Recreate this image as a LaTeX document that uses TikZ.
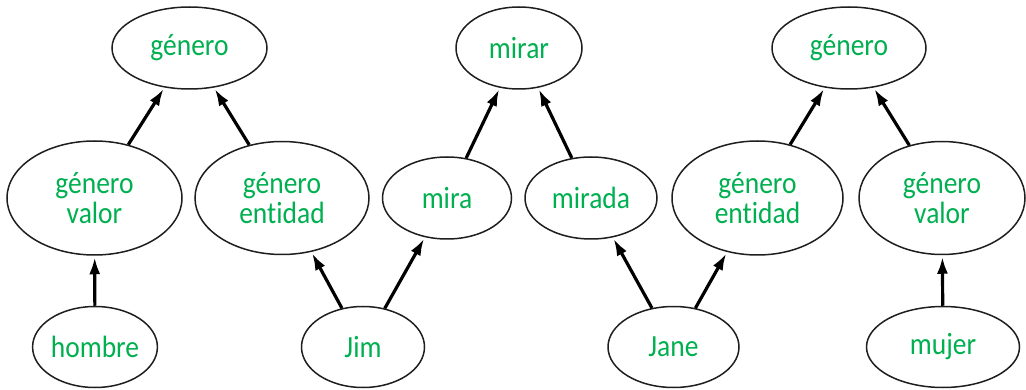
\documentclass[tikz,border=0pt]{standalone}
\usepackage{fontspec}
\setmainfont{Carlito}[Ligatures={NoCommon}]
\usetikzlibrary{shapes.geometric,arrows.meta}
\definecolor{txtgreen}{RGB}{0,176,80}
\definecolor{edgegray}{RGB}{30,30,30}
\newcommand{\tl}[1]{\scalebox{1}[1.12]{#1}}
\tikzset{
  el/.style={ellipse, draw=edgegray, line width=1.5pt, inner sep=0pt, align=center,
    text=txtgreen, font=\fontsize{27.5}{30}\selectfont},
  arr/.style={-{Latex[length=17pt,width=11pt]}, line width=3.2pt, shorten >=1.5pt, shorten <=0pt}
}
\begin{document}
\begin{tikzpicture}[x=1pt,y=-1pt]
\useasboundingbox (0,0) rectangle (1026,390);
% top row
\node[el, minimum width=155pt, minimum height=82pt] (g1) at (189.5,48) {\tl{género}};
\node[el, minimum width=126pt, minimum height=82pt] (mirar) at (519,48) {\tl{mirar}};
\node[el, minimum width=154pt, minimum height=82pt] (g3) at (849,48) {\tl{género}};
% middle row
\node[el, minimum width=175pt, minimum height=114pt] (gvL) at (94.5,198) {\tl{género}\\\tl{valor}};
\node[el, minimum width=174pt, minimum height=113pt] (geL) at (282,198) {\tl{género}\\\tl{entidad}};
\node[el, minimum width=129pt, minimum height=82pt] (mira) at (447,198) {\tl{mira}};
\node[el, minimum width=132pt, minimum height=82pt] (mirada) at (591,198) {\tl{mirada}};
\node[el, minimum width=171pt, minimum height=114pt] (geR) at (757.5,198) {\tl{género}\\\tl{entidad}};
\node[el, minimum width=166pt, minimum height=113pt] (gvR) at (942,198) {\tl{género}\\\tl{valor}};
% bottom row
\node[el, minimum width=124pt, minimum height=81pt] (hombre) at (95,347) {\tl{hombre}};
\node[el, minimum width=123pt, minimum height=81pt] (jim) at (363,347) {\tl{Jim}};
\node[el, minimum width=131pt, minimum height=81pt] (jane) at (673.5,347) {\tl{Jane}};
\node[el, minimum width=153pt, minimum height=81pt] (mujer) at (943,347) {\tl{mujer}};
% arrows
\draw[arr] (gvL) -- (g1);
\draw[arr] (geL) -- (g1);
\draw[arr] (mira) -- (mirar);
\draw[arr] (mirada) -- (mirar);
\draw[arr] (geR) -- (g3);
\draw[arr] (gvR) -- (g3);
\draw[arr] (hombre) -- (gvL);
\draw[arr] (jim) -- (geL);
\draw[arr] (jim) -- (mira);
\draw[arr] (jane) -- (mirada);
\draw[arr] (jane) -- (geR);
\draw[arr] (mujer) -- (gvR);
\end{tikzpicture}
\end{document}
